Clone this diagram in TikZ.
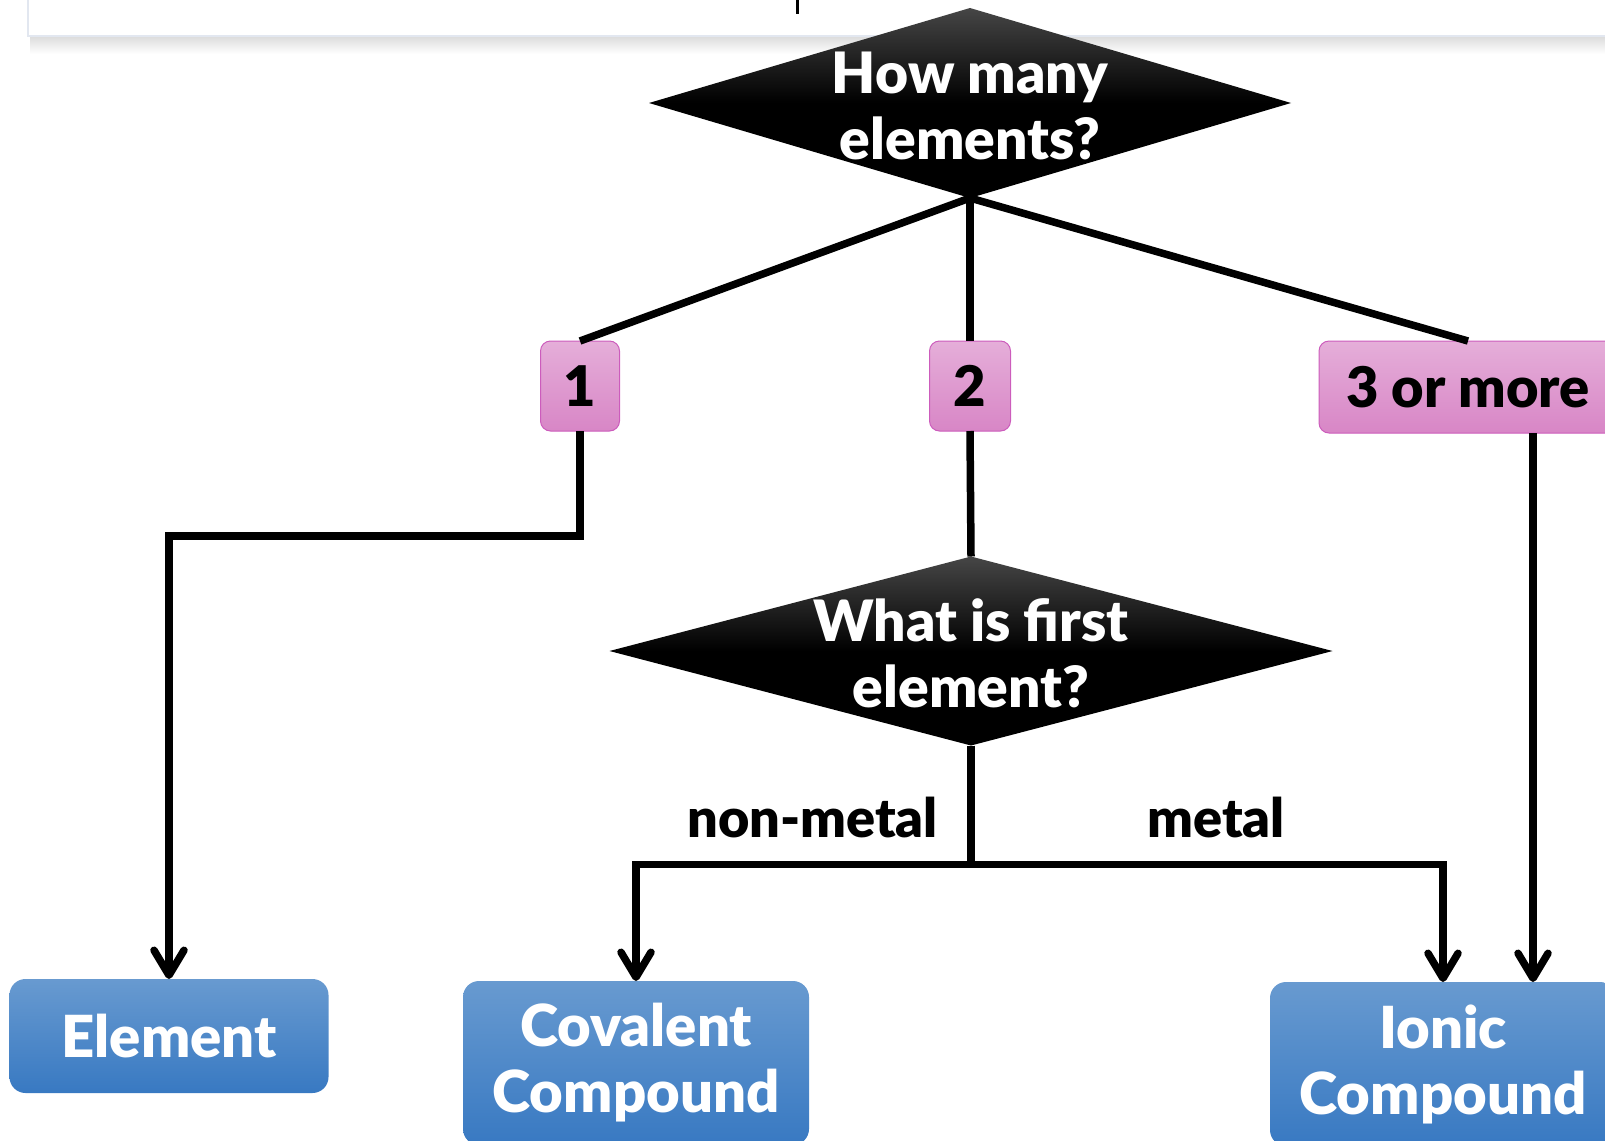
\documentclass[tikz,border=0pt]{standalone}
\usepackage{fontspec}
\setmainfont{Lato}[BoldFont={Lato Black}]
\usetikzlibrary{arrows.meta,shapes.geometric,calc}
\definecolor{pinkT}{RGB}{229,174,217}
\definecolor{pinkB}{RGB}{216,134,198}
\definecolor{pinkD}{RGB}{204,92,188}
\definecolor{blueT}{RGB}{104,154,208}
\definecolor{blueB}{RGB}{56,121,194}
\definecolor{diaT}{RGB}{70,70,70}
\definecolor{panelB}{RGB}{226,231,240}
\begin{document}
\begin{tikzpicture}[x=1pt,y=-1pt,
  conn/.style={line width=7.5pt, draw=black},
  arr/.style={conn, -{Straight Barb[length=25pt,width=30pt,round]}},
  diam/.style={diamond, aspect=3.38, inner sep=0pt, outer sep=0pt,
    top color=diaT, bottom color=black, middle color=black, shading angle=0},
  qtext/.style={text=white, font=\bfseries\fontsize{57}{66}\selectfont, align=center},
  pinkbox/.style={rounded corners=10pt, draw=pinkD, line width=1pt,
    top color=pinkT, bottom color=pinkB, inner sep=0pt, outer sep=0pt,
    font=\bfseries\fontsize{56}{60}\selectfont},
  bluebox/.style={rounded corners=16pt, top color=blueT, bottom color=blueB,
    inner sep=0pt, outer sep=0pt, text=white, align=center,
    font=\bfseries\fontsize{58}{66}\selectfont},
  lbl/.style={font=\bfseries\fontsize{54}{60}\selectfont, inner sep=0pt}
]
\useasboundingbox (0,0) rectangle (1605,1140);
% top panel with shadow
\shade[top color=black!14, bottom color=white] (30,36) rectangle (1620,54);
\draw[panelB, line width=1.5pt, fill=white] (28,-10) rectangle (1620,36);
\draw[line width=3pt] (797,0) -- (797,14);

% decisions
\node[diam, minimum width=642pt, minimum height=190pt] (q1) at (970,103) {};
\node[qtext] (q1t) at ([yshift=-3pt]q1) {How many\\elements?};
\node[diam, minimum width=723pt, minimum height=189pt] (q2) at (971,651) {};
\node[qtext] (q2t) at ([yshift=-2pt]q2) {What is first\\element?};

% pink answers
\node[pinkbox, minimum width=79pt, minimum height=90pt] (b1) at (580,386) {1};
\node[pinkbox, minimum width=81pt, minimum height=90pt] (b2) at (970,386) {2};
\node[pinkbox, minimum width=298pt, minimum height=92pt] (b3) at (1468,387) {3 or more};

% results
\node[bluebox, minimum width=319pt, minimum height=114pt] (elem) at (169,1036) {Element};
\node[bluebox, minimum width=346pt, minimum height=164pt] (cov) at (636,1063) {Covalent\\Compound};
\node[bluebox, minimum width=346pt, minimum height=164pt] (ion) at (1443,1064) {Ionic\\Compound};

% labels
\node[lbl, anchor=base east] (lnm) at (938,837) {non-metal};
\node[lbl, anchor=base] (lm) at (1216,837) {metal};

% connectors
\draw[conn] (q1.south) -- (b1.north);
\draw[conn] (q1.south) -- (b2.north);
\draw[conn] (q1.south) -- (b3.north);
\draw[arr] (b1.south) -- ++(0,105) -| (elem.north);
\draw[conn] (b2.south) -- (q2.north);
\draw[arr] (q2.south) -- ++(0,119) -| (cov.north);
\draw[arr] (q2.south) -- ++(0,119) -| (ion.north);
\draw[arr] ([xshift=65pt]b3.south) -- ([xshift=90pt]ion.north);
\end{tikzpicture}
\end{document}
